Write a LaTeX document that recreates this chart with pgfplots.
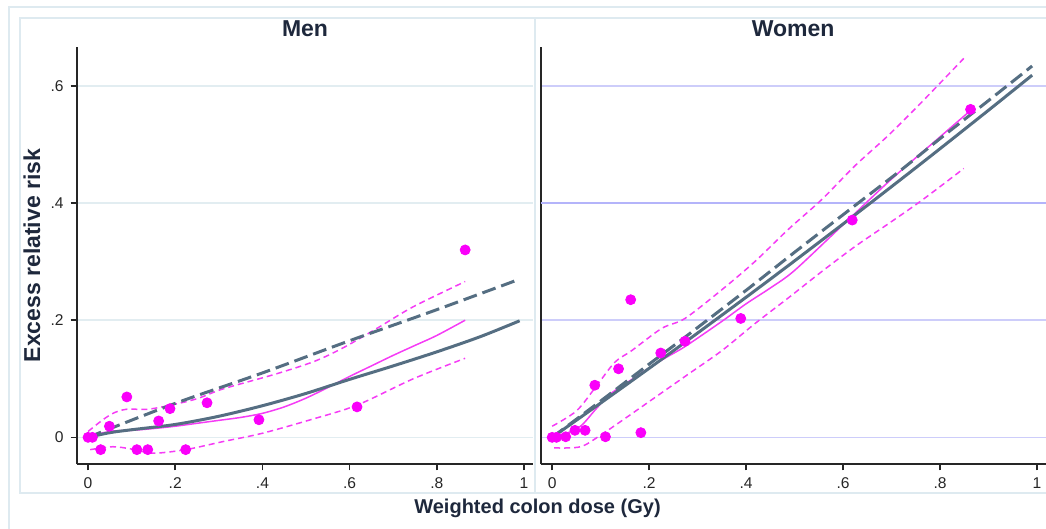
\documentclass[border=0pt]{standalone}
\usepackage{fontspec}
\setmainfont{Liberation Sans}
\usepackage{pgfplots}
\pgfplotsset{compat=1.18}
\definecolor{framec}{RGB}{222,234,240}
\definecolor{mengrid}{RGB}{226,237,241}
\definecolor{wgrid}{RGB}{205,205,250}
\definecolor{wgridd}{RGB}{180,180,250}
\definecolor{txt}{RGB}{30,40,60}
\definecolor{slate}{RGB}{85,110,130}
\definecolor{mag}{RGB}{250,0,250}
\definecolor{magl}{RGB}{245,60,245}
\pgfplotsset{
  panel/.style={
    scale only axis, anchor=south west,
    height=208.8pt,
    ymin=-0.046, ymax=0.667,
    axis lines=left,
    axis line style={-, line width=1pt, color=black!85},
    tick align=outside, major tick length=3pt,
    tick style={line width=0.8pt, color=black!85},
    xtick={0,0.2,0.4,0.6,0.8,1}, xticklabels={0,.2,.4,.6,.8,1},
    ytick={0,0.2,0.4,0.6},
    ymajorgrids,
    ticklabel style={font=\fontsize{7.8}{8}\selectfont, text=black!85},
  },
  mk/.style={only marks, mark=*, mark size=2.5pt, color=mag, mark options={draw=none, fill=mag}},
  gs/.style={color=slate, line width=1.5pt, smooth},
  gd/.style={color=slate, line width=1.5pt, dash pattern=on 7pt off 3pt, smooth},
  ps/.style={color=magl, line width=0.75pt, smooth},
  pd/.style={color=magl, line width=0.75pt, dash pattern=on 3pt off 2pt, smooth},
}
\begin{document}
\begin{tikzpicture}
\useasboundingbox (0,0) rectangle (523pt,264.5pt);
% frames
\draw[framec, line width=0.8pt] (4.5pt,-2pt) -- (4.5pt,261pt) -- (530pt,261pt);
\draw[framec, line width=0.8pt] (10pt,18pt) rectangle (267.5pt,255.6pt);
\draw[framec, line width=0.8pt] (267.5pt,18pt) rectangle (530pt,255.6pt);

% ---------------- Men ----------------
\begin{axis}[panel, at={(38.35pt,32.35pt)}, width=228.15pt,
  xmin=-0.026, xmax=1.0206,
  yticklabels={0,.2,.4,.6},
  major grid style={color=mengrid, line width=0.75pt}]
\addplot[mk] coordinates {(0,0) (0.01,0) (0.029,-0.021) (0.049,0.019) (0.089,0.069)
  (0.112,-0.021) (0.137,-0.021) (0.162,0.028) (0.188,0.049) (0.224,-0.021)
  (0.273,0.059) (0.392,0.030) (0.617,0.052) (0.865,0.320)};
\addplot[pd] coordinates {(0,0.01) (0.034,0.03) (0.06,0.042) (0.089,0.048) (0.137,0.048)
  (0.19,0.055) (0.25,0.066) (0.311,0.083) (0.43,0.108) (0.52,0.13) (0.588,0.154)
  (0.667,0.188) (0.746,0.223) (0.865,0.266)};
\addplot[pd] coordinates {(0.005,-0.021) (0.057,-0.016) (0.1,-0.02) (0.15,-0.027)
  (0.224,-0.021) (0.311,-0.007) (0.4,0.007) (0.51,0.03) (0.617,0.055) (0.746,0.1)
  (0.865,0.135)};
\addplot[ps] coordinates {(0,0) (0.03,0.007) (0.06,0.011) (0.1,0.012) (0.15,0.015)
  (0.2,0.019) (0.25,0.024) (0.3,0.029) (0.35,0.034) (0.4,0.041) (0.45,0.052)
  (0.5,0.067) (0.55,0.085) (0.6,0.104) (0.65,0.122) (0.7,0.14) (0.75,0.157)
  (0.8,0.174) (0.865,0.2)};
\addplot[gs] coordinates {(0,0) (0.05,0.008) (0.1,0.013) (0.2,0.022) (0.3,0.036)
  (0.4,0.054) (0.5,0.075) (0.6,0.099) (0.7,0.122) (0.8,0.146) (0.9,0.172) (0.99,0.199)};
\addplot[gd] coordinates {(0,0) (0.2,0.058) (0.4,0.110) (0.6,0.165) (0.8,0.218) (0.986,0.269)};
\end{axis}

% ---------------- Women ----------------
\begin{axis}[panel, at={(270.25pt,32.35pt)}, width=252.75pt,
  xmin=-0.024, xmax=1.0186,
  yticklabels={}, y tick style={draw=none},
  major grid style={color=wgrid, line width=0.75pt},
  extra y ticks={0.4}, extra y tick labels={},
  extra y tick style={grid=major, major grid style={color=wgridd, line width=0.8pt}, tick style={draw=none}}]
\addplot[mk] coordinates {(0,0) (0.009,0) (0.028,0.001) (0.047,0.012) (0.068,0.012)
  (0.088,0.089) (0.110,0.001) (0.137,0.117) (0.162,0.235) (0.183,0.008)
  (0.224,0.144) (0.274,0.164) (0.389,0.203) (0.619,0.371) (0.863,0.560)};
\addplot[pd] coordinates {(0,0.019) (0.05,0.045) (0.089,0.085) (0.129,0.128) (0.164,0.148)
  (0.226,0.186) (0.274,0.203) (0.35,0.252) (0.418,0.30) (0.487,0.355) (0.556,0.406)
  (0.625,0.464) (0.694,0.516) (0.763,0.573) (0.849,0.647)};
\addplot[pd] coordinates {(0.004,-0.018) (0.059,-0.016) (0.102,0.005) (0.143,0.028)
  (0.212,0.068) (0.281,0.108) (0.35,0.148) (0.418,0.194) (0.487,0.238) (0.556,0.283)
  (0.625,0.326) (0.694,0.365) (0.763,0.405) (0.849,0.459)};
\addplot[ps] coordinates {(0,0) (0.03,0.007) (0.06,0.02) (0.09,0.048) (0.12,0.074)
  (0.17,0.102) (0.224,0.131) (0.274,0.155) (0.35,0.198) (0.4,0.228) (0.45,0.255)
  (0.5,0.285) (0.6,0.363) (0.7,0.441) (0.8,0.513) (0.86,0.556)};
\addplot[gs] coordinates {(0,0) (0.1,0.0585) (0.2,0.1178) (0.274,0.1623) (0.4,0.2392)
  (0.5,0.3013) (0.625,0.3801) (0.7175,0.4393) (0.8,0.4928) (0.9,0.5585) (0.99,0.6183)};
\addplot[gd] coordinates {(0,0) (0.1,0.062) (0.2,0.125) (0.274,0.171) (0.4,0.251)
  (0.5,0.316) (0.625,0.396) (0.7175,0.455) (0.8,0.51) (0.9,0.575) (0.99,0.634)};
\end{axis}

% titles and labels
\node[font=\fontsize{11.5}{12}\selectfont\bfseries, text=txt] at (152.5pt,250.15pt) {Men};
\node[font=\fontsize{11.5}{12}\selectfont\bfseries, text=txt] at (396.6pt,250.15pt) {Women};
\node[font=\fontsize{11.5}{12}\selectfont\bfseries, text=txt, rotate=90] at (16pt,136.75pt) {Excess relative risk};
\node[font=\fontsize{10}{11}\selectfont\bfseries, text=txt] at (268.75pt,10.5pt) {Weighted colon dose (Gy)};
\end{tikzpicture}
\end{document}
